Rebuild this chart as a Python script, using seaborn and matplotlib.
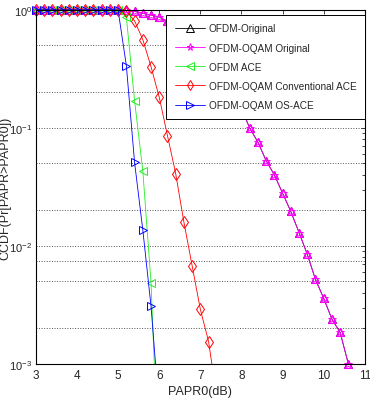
import numpy as np
import seaborn as sns
import matplotlib.pyplot as plt
from matplotlib.ticker import LogLocator, NullFormatter

# PAPR0 (dB) grid used for the markers
papr = [3.0, 3.2, 3.4, 3.6, 3.8, 4.0, 4.2, 4.4, 4.6, 4.8, 5.0, 5.2, 5.4, 5.6,
        5.8, 6.0, 6.2, 6.4, 6.6, 6.8, 7.0, 7.2, 7.4, 7.6, 7.8, 8.0, 8.2, 8.4,
        8.6, 8.8, 9.0, 9.2, 9.4, 9.6, 9.8, 10.0, 10.2, 10.4, 10.6]

# original signals (OFDM and OFDM-OQAM overlap)
ccdf_ofdm = [1, 1, 1, 1, 1, 1, 1, 1, 1, 1, 1.0, 0.99, 0.97, 0.935, 0.905, 0.87,
             0.80, 0.74, 0.66, 0.58, 0.50, 0.42, 0.34, 0.27, 0.20, 0.145, 0.100,
             0.0757, 0.0528, 0.040, 0.028, 0.0196, 0.013, 0.0085, 0.0052,
             0.0036, 0.0024, 0.00185, 0.001]
ccdf_oqam = ccdf_ofdm

# ACE curves (last point = where the curve leaves the plot, no marker)
papr_ofdm_ace = [3.0, 3.2, 3.4, 3.6, 3.8, 4.0, 4.2, 4.4, 4.6, 4.8, 5.0, 5.2,
                 5.4, 5.6, 5.8, 5.88]
ccdf_ofdm_ace = [1, 1, 1, 1, 1, 1, 1, 1, 1, 1, 0.995, 0.87, 0.17, 0.0435,
                 0.0049, 0.001]
papr_os_ace = [3.0, 3.2, 3.4, 3.6, 3.8, 4.0, 4.2, 4.4, 4.6, 4.8, 5.0, 5.2,
               5.4, 5.6, 5.8, 5.91]
ccdf_os_ace = [1, 1, 1, 1, 1, 1, 1, 1, 1, 1, 0.99, 0.337, 0.051, 0.0137,
               0.0031, 0.001]
papr_conv = [3.0, 3.2, 3.4, 3.6, 3.8, 4.0, 4.2, 4.4, 4.6, 4.8, 5.0, 5.2, 5.4,
             5.6, 5.8, 6.0, 6.2, 6.4, 6.6, 6.8, 7.0, 7.2, 7.28]
ccdf_conv_ace = [1, 1, 1, 1, 1, 1, 1, 1, 1, 1, 1.0, 0.975, 0.807, 0.56, 0.33,
                 0.182, 0.086, 0.041, 0.0159, 0.0068, 0.0029, 0.00155, 0.001]

grid_levels = [0.5, 0.2, 0.1, 0.05, 0.02, 0.01, 0.0075, 0.005, 0.002]

sns.set_style('white')
plt.rcParams['font.family'] = ['Liberation Sans', 'DejaVu Sans']
plt.rcParams['mathtext.fontset'] = 'custom'
plt.rcParams['mathtext.rm'] = 'Liberation Sans'
plt.rcParams['legend.numpoints'] = 1

fig = plt.figure(figsize=(3.7, 4.02), dpi=100)
ax = fig.add_axes([0.097, 0.092, 0.889, 0.881])

for lv in grid_levels:
    ax.axhline(lv, color='#555555', ls=':', lw=0.7, zorder=0)

def curve(x, y, color, marker, label, nomark_last=False):
    idx = list(range(len(x) - 1)) if nomark_last else None
    sns.lineplot(x=x, y=y, ax=ax, color=color, marker=marker, label=label,
                 lw=0.6, markersize=6, markerfacecolor='none',
                 markeredgecolor=color, markeredgewidth=0.7,
                 estimator=None, sort=False, markevery=idx, clip_on=False)

curve(papr, ccdf_ofdm, 'black', '^', 'OFDM-Original')
curve(papr, ccdf_oqam, 'magenta', '*', 'OFDM-OQAM Original')
ax.plot(papr, ccdf_oqam, color='magenta', marker='^', lw=0, markersize=6,
        markerfacecolor='none', markeredgecolor='magenta',
        markeredgewidth=0.8, clip_on=False)
curve(papr_ofdm_ace, ccdf_ofdm_ace, '#22ee22', '<', 'OFDM ACE', True)
curve(papr_conv, ccdf_conv_ace, 'red', 'd', 'OFDM-OQAM Conventional ACE', True)
curve(papr_os_ace, ccdf_os_ace, 'blue', '>', 'OFDM-OQAM OS-ACE', True)

ax.set_yscale('log')
ax.set_xlim(3, 11)
ax.set_ylim(1e-3, 1)
ax.set_xticks(range(3, 12))
ax.yaxis.set_major_locator(LogLocator(base=10, numticks=10))
ax.yaxis.set_minor_locator(LogLocator(base=10, subs=np.arange(2, 10), numticks=10))
ax.yaxis.set_minor_formatter(NullFormatter())
ax.tick_params(which='both', direction='in', top=True, right=True,
               labelsize=8.5, length=3, width=0.6)
ax.tick_params(axis='y', labelsize=8, pad=2.5)
ax.tick_params(which='minor', length=2)
for sp in ax.spines.values():
    sp.set_color('black')
    sp.set_linewidth(0.8)

ax.set_xlabel('PAPR0(dB)', fontsize=9, labelpad=3)
ax.set_ylabel('CCDF(Pr[PAPR>PAPR0])', fontsize=9)
ax.yaxis.set_label_coords(-0.075, 0.5)

leg = ax.legend(loc='upper right', bbox_to_anchor=(1.0, 0.986), fontsize=7.2,
                frameon=True, fancybox=False, edgecolor='black', framealpha=1,
                handlelength=3.0, borderpad=0.85, labelspacing=0.92,
                handletextpad=0.4, borderaxespad=0, markerscale=0.85)
leg.get_frame().set_linewidth(0.7)

plt.savefig('out.png', dpi=100)
